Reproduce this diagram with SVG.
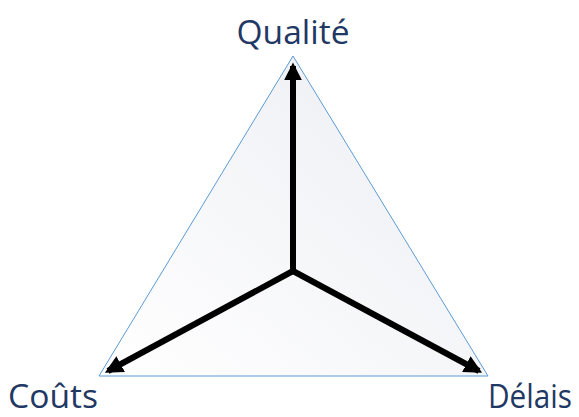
<svg xmlns="http://www.w3.org/2000/svg" width="579" height="417" viewBox="0 0 579 417">
<style>
.lbl{font-family:"Open Sans","Liberation Sans",sans-serif;font-size:32px;fill:#1F3864}
.ax{stroke:#000;stroke-width:6;fill:none;marker-end:url(#ah)}
</style>
<defs>
<linearGradient id="g" x1="0" y1="1" x2="1" y2="0">
<stop offset="0" stop-color="#FFFFFF"/>
<stop offset="1" stop-color="#ECEDF3"/>
</linearGradient>
<marker id="ah" viewBox="0 0 10 10" refX="8" refY="5" markerWidth="3" markerHeight="3" orient="auto" markerUnits="strokeWidth">
<path d="M0,0 L10,5 L0,10 Z" fill="#000"/>
</marker>
</defs>
<g id="triangle">
<polygon points="293,56 99,376 488,376" fill="url(#g)" stroke="#5B9BD5" stroke-width="1"/>
</g>
<g id="connectors">
<line class="ax" x1="293" y1="271" x2="293" y2="66"/>
<line class="ax" x1="293" y1="271" x2="108" y2="371"/>
<line class="ax" x1="293" y1="271" x2="479" y2="371"/>
</g>
<g id="qualite"><text class="lbl" x="293" y="44" text-anchor="middle" textLength="113" lengthAdjust="spacingAndGlyphs">Qualité</text></g>
<g id="couts"><text class="lbl" x="8" y="408" textLength="90" lengthAdjust="spacingAndGlyphs">Coûts</text></g>
<g id="delais"><text class="lbl" x="488" y="408" textLength="84" lengthAdjust="spacingAndGlyphs">Délais</text></g>
</svg>
